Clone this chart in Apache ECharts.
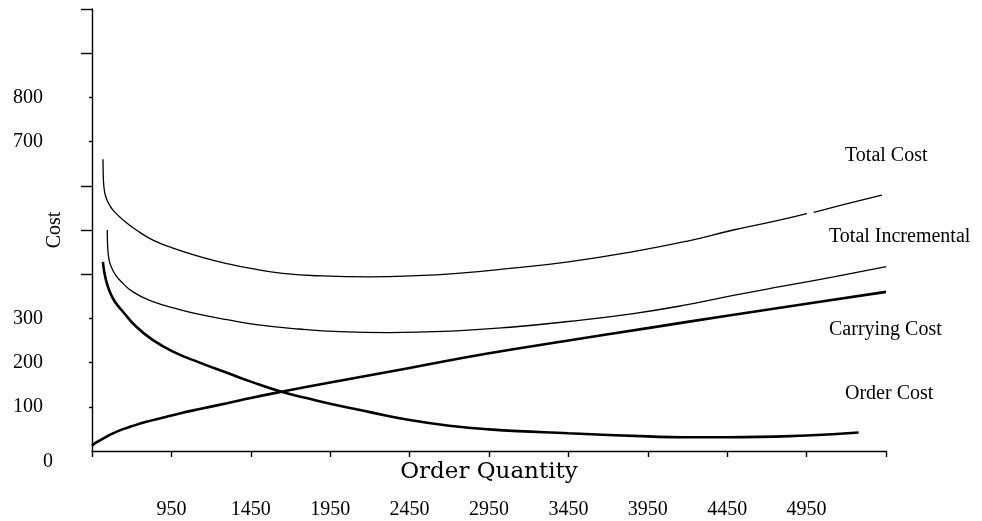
<!DOCTYPE html>
<html>
<head>
<meta charset="utf-8">
<script src="https://cdn.jsdelivr.net/npm/echarts@6/dist/echarts.min.js"></script>
<style>
html,body{margin:0;padding:0;background:#fff;}
#chart{width:982px;height:521px;}
</style>
</head>
<body>
<div id="chart"></div>
<script>
// ---- data ----
var seriesNames = ['Total Cost', 'Total Incremental', 'Carrying Cost', 'Order Cost'];
var xTickLabels = [950, 1450, 1950, 2450, 2950, 3450, 3950, 4450, 4950];
var yTickLabels = [0, 100, 200, 300, 700, 800];
var yLongTicks = [400, 500, 600, 900, 1000];
var yShortTicks = [100, 200, 300, 700, 800];

var totalCost = [[519,660],[520,640],[523,606],[530,585],[540,572],[560,557],[582,545],[645,523],[729,500],[834,477],[960,459],[1128,440],[1300,424],[1450,413],[1650,402],[1900,396],[2200,394],[2450,396],[2750,402],[3082,413],[3450,428],[3859,451],[4200,475],[4489,500],[4750,520],[4952,537],[4970,null],[4995,540],[5200,559],[5424,579]];
var totalIncremental = [[546,500],[547,480],[550,455],[558,432],[571,417],[595,400],[624,387],[708,360],[834,338],[1002,320],[1128,309],[1300,297],[1485,286],[1750,276],[2010,270],[2326,268],[2746,272],[3082,280],[3450,293],[3859,311],[4200,331],[4489,352],[4800,373],[5120,394],[5452,417]];
var carryingCost = [[450,12],[460,15],[475,19],[500,24],[540,32],[582,40],[650,50],[700,56],[792,66],[900,76],[1002,85],[1128,95],[1300,108],[1450,120],[1643,134],[1950,155],[2450,188],[2950,221],[3450,250],[3950,278],[4450,306],[4950,333],[5450,360]];
var orderCost = [[519,428],[523,415],[529,402],[538,387],[550,372],[565,358],[582,345],[610,330],[645,315],[729,281],[834,251],[960,225],[1128,200],[1300,177],[1450,157],[1643,134],[1800,120],[1950,107],[2200,88],[2450,70],[2700,57],[2950,49],[3450,40],[3950,33],[4175,31],[4450,31],[4950,35],[5277,42]];

var seriesData = [totalCost, totalIncremental, carryingCost, orderCost];
var seriesWidths = [1.3, 1.3, 2.6, 2.6];

var serif = '"Liberation Serif", "Times New Roman", serif';
var labelPos = [
  {left: 845, top: 146},
  {left: 829, top: 227},
  {left: 829, top: 320},
  {left: 845, top: 384}
];

var chart = echarts.init(document.getElementById('chart'), null, {renderer: 'canvas'});

var series = seriesData.map(function (d, i) {
  return {
    name: seriesNames[i],
    type: 'line',
    data: d,
    xAxisIndex: 0,
    yAxisIndex: 0,
    showSymbol: false,
    smooth: 0.5,
    connectNulls: false,
    silent: true,
    lineStyle: {color: '#000', width: seriesWidths[i]},
    z: 5
  };
});

var graphics = seriesNames.map(function (n, i) {
  return {
    type: 'text',
    left: labelPos[i].left,
    top: labelPos[i].top,
    silent: true,
    style: {text: n, font: '20px ' + serif, fill: '#000'}
  };
});

var option = {
  backgroundColor: '#fff',
  animation: false,
  grid: {left: 92, right: 96, top: 9, bottom: 70, containLabel: false, outerBoundsMode: 'none'},
  xAxis: {
    type: 'value',
    min: 450, max: 5450, interval: 500,
    name: 'Order Quantity',
    nameLocation: 'middle',
    nameGap: 10,
    nameMoveOverlap: false,
    nameTextStyle: {fontFamily: '"DejaVu Serif", serif', fontSize: 23, color: '#000', verticalAlign: 'top'},
    axisLine: {show: true, onZero: false, lineStyle: {color: '#000', width: 1.4}},
    axisTick: {show: true, inside: false, length: 6, lineStyle: {color: '#000', width: 1.4}},
    axisLabel: {
      show: true, margin: 49, color: '#000', fontFamily: serif, fontSize: 20,
      customValues: xTickLabels,
      formatter: function (v) { return String(v); }
    },
    splitLine: {show: false}
  },
  yAxis: [
    {
      type: 'value',
      min: 0, max: 1000, interval: 100,
      name: 'Cost',
      nameLocation: 'middle',
      nameGap: 27,
      nameRotate: 90,
      nameMoveOverlap: false,
      nameTextStyle: {fontFamily: serif, fontSize: 20, color: '#000'},
      axisLine: {show: true, onZero: false, lineStyle: {color: '#000', width: 1.4}},
      axisTick: {show: true, inside: false, length: 3, customValues: yShortTicks, lineStyle: {color: '#000', width: 1.4}},
      axisLabel: {
        show: true, margin: 39, color: '#000', fontFamily: serif, fontSize: 20,
        customValues: yTickLabels,
        formatter: function (v) { return v === 0 ? '{z|0}' : '{n|' + v + '}'; },
        rich: {
          n: {fontFamily: serif, fontSize: 20, color: '#000', padding: [0, 10, 0, 0]},
          z: {fontFamily: serif, fontSize: 20, color: '#000', padding: [21, 0, 0, 0]}
        }
      },
      splitLine: {show: false}
    },
    {
      type: 'value',
      min: 0, max: 1000, interval: 100,
      position: 'left',
      axisLine: {show: false},
      axisTick: {show: true, inside: false, length: 11, customValues: yLongTicks, lineStyle: {color: '#000', width: 1.4}},
      axisLabel: {show: false},
      splitLine: {show: false}
    }
  ],
  series: series,
  graphic: graphics
};

chart.setOption(option);
</script>
</body>
</html>
